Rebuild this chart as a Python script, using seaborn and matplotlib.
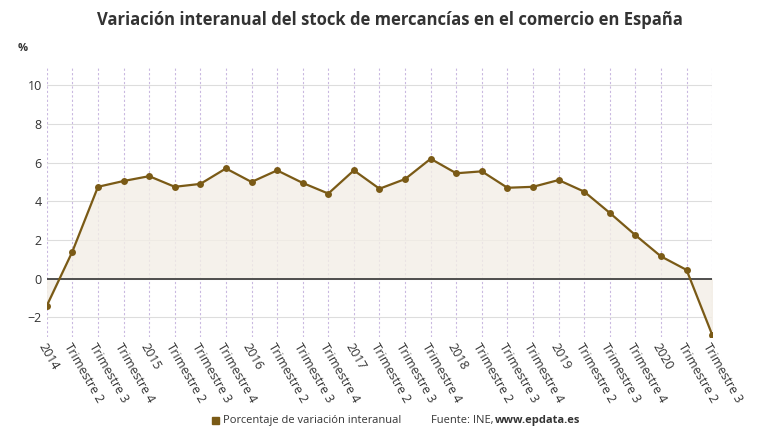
import numpy as np
import pandas as pd
import matplotlib
matplotlib.use("Agg")
import matplotlib.pyplot as plt
import seaborn as sns

labels = ["2014", "Trimestre 2", "Trimestre 3", "Trimestre 4",
          "2015", "Trimestre 2", "Trimestre 3", "Trimestre 4",
          "2016", "Trimestre 2", "Trimestre 3", "Trimestre 4",
          "2017", "Trimestre 2", "Trimestre 3", "Trimestre 4",
          "2018", "Trimestre 2", "Trimestre 3", "Trimestre 4",
          "2019", "Trimestre 2", "Trimestre 3", "Trimestre 4",
          "2020", "Trimestre 2", "Trimestre 3"]
values = [-1.4, 1.4, 4.75, 5.05, 5.3, 4.75, 4.9, 5.7, 5.0, 5.6, 4.95, 4.4,
          5.6, 4.65, 5.15, 6.2, 5.45, 5.55, 4.7, 4.75, 5.1, 4.5, 3.4, 2.25,
          1.15, 0.45, -2.9]

df = pd.DataFrame({"x": np.arange(len(values)), "y": values})
color = "#7a5a16"

plt.rcParams["font.family"] = "Open Sans"
fig = plt.figure(figsize=(7.8, 4.4), dpi=100)
ax = fig.add_axes([0.06, 0.235, 0.853, 0.615])

ax.fill_between(df["x"], df["y"], 0, color="#f3eee6", alpha=0.8, zorder=1)
sns.lineplot(data=df, x="x", y="y", ax=ax, color=color, linewidth=1.6,
             marker="o", markersize=5, markeredgewidth=0, zorder=3)
ax.axhline(0, color="#333333", linewidth=1.2, zorder=2)

ax.set_xlim(0, len(values) - 1)
ax.set_ylim(-3, 11)
ax.set_yticks([-2, 0, 2, 4, 6, 8, 10])
ax.set_xticks(df["x"])
ax.set_xticklabels(labels, rotation=-60, ha="left", rotation_mode="anchor",
                   fontsize=9, color="#333333")
ax.tick_params(axis="y", labelsize=9, colors="#333333", length=0)
ax.tick_params(axis="x", length=0, pad=3)
ax.grid(axis="x", color="#c9b8e0", linestyle=(0, (2, 2)), linewidth=0.8)
ax.grid(axis="y", color="#dddddd", linewidth=0.8)
ax.set_axisbelow(True)
for s in ax.spines.values():
    s.set_visible(False)
ax.set_xlabel("")
ax.set_ylabel("")

fig.text(0.5, 0.955, "Variación interanual del stock de mercancías en el comercio en España",
         ha="center", va="center", fontsize=12, fontweight="bold", color="#333333")
fig.text(0.022, 0.885, "%", fontsize=8, fontweight="bold", color="#333333")

fig.patches.append(plt.Rectangle((0.272, 0.036), 0.009, 0.016, color=color,
                                 transform=fig.transFigure, figure=fig))
fig.text(0.286, 0.045, "Porcentaje de variación interanual", fontsize=8,
         va="center", color="#333333")
fig.text(0.552, 0.045, "Fuente: INE,", fontsize=8, va="center", color="#333333")
fig.text(0.634, 0.045, "www.epdata.es", fontsize=8, va="center",
         fontweight="bold", color="#333333")

fig.savefig("out.png", dpi=100)
